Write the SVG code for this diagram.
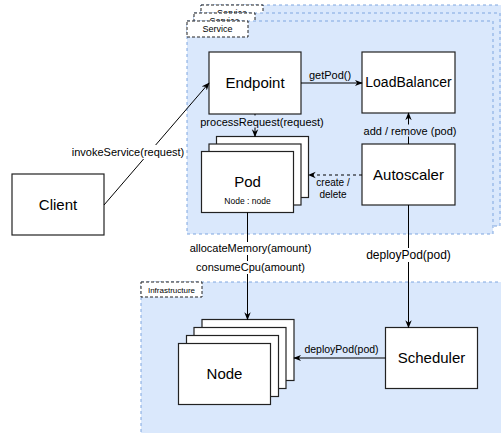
<svg xmlns="http://www.w3.org/2000/svg" width="501" height="433" viewBox="0 0 501 433">
<defs>
<style>
.cont{fill:#dae8fc;stroke:#7ea6e0;stroke-width:1;stroke-dasharray:3 3}
.lbl{fill:#fff;stroke:#222;stroke-width:1;stroke-dasharray:3 2}
.box{fill:#fff;stroke:#222;stroke-width:1.2}
.t{font-family:"Liberation Sans",Arial,Helvetica,sans-serif;fill:#000;text-anchor:middle}
.big{font-size:15px}
.el{font-size:11px}
.edge{fill:none;stroke:#000;stroke-width:1}
</style>
<marker id="arr" markerUnits="userSpaceOnUse" viewBox="0 0 10 10" refX="9" refY="5" markerWidth="8" markerHeight="8" orient="auto">
<path d="M0,1 L10,5 L0,9 L3,5 z" fill="#000"/>
</marker>
</defs>
<rect width="501" height="433" fill="#fff"/>

<g id="service3">
<rect class="cont" x="201" y="5" width="310" height="213"/>
<rect class="lbl" x="201" y="5" width="62" height="16"/>
<text class="t" x="232" y="16" font-size="9">Service</text>
</g>
<g id="service2">
<rect class="cont" x="194" y="13" width="306" height="213"/>
<rect class="lbl" x="194" y="13" width="61" height="16"/>
<text class="t" x="224.5" y="24" font-size="9">Service</text>
</g>
<g id="service">
<rect class="cont" x="187" y="21" width="306" height="213"/>
<rect class="lbl" x="187" y="21" width="61" height="16"/>
<text class="t" x="217.5" y="32" font-size="9">Service</text>
</g>
<g id="infrastructure">
<rect class="cont" x="141" y="282" width="400" height="200"/>
<rect class="lbl" x="141" y="282" width="61" height="15"/>
<text class="t" x="171.5" y="292.5" font-size="8">Infrastructure</text>
</g>

<g id="endpoint">
<rect class="box" x="209" y="52" width="92" height="62"/>
<text class="t big" x="255" y="88">Endpoint</text>
</g>
<g id="loadbalancer">
<rect class="box" x="362" y="52" width="93" height="61"/>
<text class="t" x="408.5" y="87" font-size="14">LoadBalancer</text>
</g>
<g id="autoscaler">
<rect class="box" x="362" y="144" width="93" height="61"/>
<text class="t big" x="408.5" y="180">Autoscaler</text>
</g>
<g id="pod">
<rect class="box" x="216.5" y="136.5" width="92" height="61"/>
<rect class="box" x="209" y="144" width="92" height="61"/>
<rect class="box" x="201.5" y="151.5" width="92" height="61"/>
<text class="t big" x="247.5" y="187">Pod</text>
<text class="t" x="247.5" y="203.5" font-size="8.5">Node : node</text>
</g>
<g id="client">
<rect class="box" x="12" y="174" width="92" height="61"/>
<text class="t big" x="58" y="210">Client</text>
</g>
<g id="node">
<rect class="box" x="202" y="319.5" width="92" height="61"/>
<rect class="box" x="194" y="327.5" width="92" height="61"/>
<rect class="box" x="186.5" y="335.5" width="92" height="61"/>
<rect class="box" x="178.5" y="343.5" width="92" height="61"/>
<text class="t big" x="224.5" y="379">Node</text>
</g>
<g id="scheduler">
<rect class="box" x="385.5" y="327.5" width="92" height="61"/>
<text class="t big" x="431.5" y="363">Scheduler</text>
</g>

<g id="connectors">
<line class="edge" x1="104" y1="205" x2="209" y2="83" marker-end="url(#arr)"/>
<rect x="72" y="145" width="112" height="14" fill="#fff"/>
<text class="t el" x="128" y="156">invokeService(request)</text>

<line class="edge" x1="301" y1="83" x2="362" y2="83" marker-end="url(#arr)"/>
<text class="t el" x="330" y="78.5">getPod()</text>

<line class="edge" x1="255" y1="114" x2="255" y2="136.5" marker-end="url(#arr)"/>
<rect x="202" y="115.5" width="120" height="12" fill="#dae8fc"/>
<text class="t el" x="262" y="125.5">processRequest(request)</text>

<line class="edge" x1="408.5" y1="144" x2="408.5" y2="113" marker-end="url(#arr)"/>
<rect x="360" y="124.5" width="100" height="12" fill="#dae8fc"/>
<text class="t el" x="410" y="134.5">add / remove (pod)</text>

<line class="edge" x1="362" y1="175" x2="308.5" y2="175" stroke-dasharray="3 3" marker-end="url(#arr)"/>
<text class="t" font-size="10" x="333" y="186">create /</text>
<text class="t" font-size="10" x="333" y="198">delete</text>

<line class="edge" x1="247.5" y1="212.5" x2="247.5" y2="319.5" marker-end="url(#arr)"/>
<rect x="186" y="242" width="130" height="13" fill="#fff"/>
<text class="t el" x="250.5" y="252.3">allocateMemory(amount)</text>
<rect x="193" y="261" width="116" height="13" fill="#fff"/>
<text class="t el" x="250.5" y="271.3">consumeCpu(amount)</text>

<line class="edge" x1="408.5" y1="205" x2="408.5" y2="327.5" marker-end="url(#arr)"/>
<rect x="364" y="248" width="89" height="14" fill="#fff"/>
<text class="t" font-size="12" x="408.5" y="259.3">deployPod(pod)</text>

<line class="edge" x1="385.5" y1="358" x2="294" y2="358" marker-end="url(#arr)"/>
<text class="t" font-size="10.5" x="341.5" y="353">deployPod(pod)</text>
</g>
</svg>
